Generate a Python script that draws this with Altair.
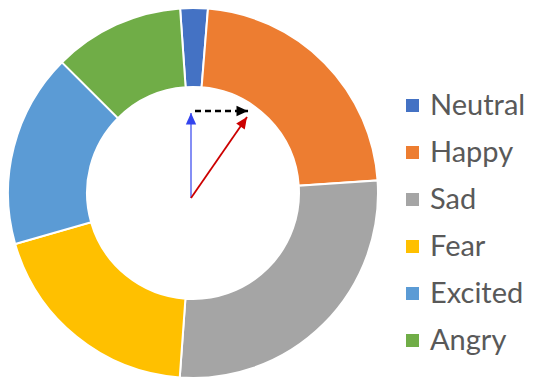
import altair as alt
import pandas as pd
import math

# Donut data
emotions = ["Neutral", "Happy", "Sad", "Fear", "Excited", "Angry"]
shares = [2.4, 22.6, 27.2, 19.4, 16.9, 11.4]
colors = ["#4472C4", "#ED7D31", "#A5A5A5", "#FFC000", "#5B9BD5", "#70AD47"]

# Arrow annotations (vector units)
arrow_names = ["blue", "red", "black"]
arrow_x0 = [0.0, 0.0, 0.047]
arrow_y0 = [0.0, 0.0, 1.024]
arrow_x1 = [0.0, 0.659, 0.671]
arrow_y1 = [1.0, 0.953, 1.024]
arrow_colors = ["#3344EE", "#CC0000", "#000000"]

W, H = 518, 374
CX, CY = 185, 185
UNIT = 85.0
OX, OY = 183, 190

df = pd.DataFrame({"emotion": emotions, "share": shares, "order": list(range(len(emotions)))})

arr = pd.DataFrame({
    "name": arrow_names, "x0": arrow_x0, "y0": arrow_y0,
    "x1": arrow_x1, "y1": arrow_y1,
})
arr["angle"] = [
    (math.degrees(math.atan2(x1 - x0, y1 - y0)) + 360) % 360
    for x0, y0, x1, y1 in zip(arrow_x0, arrow_y0, arrow_x1, arrow_y1)
]

start = -4 * math.pi / 180
donut = alt.Chart(df).mark_arc(
    innerRadius=106, outerRadius=185, stroke="white", strokeWidth=2, x=CX, y=CY
).encode(
    theta=alt.Theta("share:Q", stack=True,
                    scale=alt.Scale(range=[start, start + 2 * math.pi])),
    order=alt.Order("order:Q"),
    color=alt.Color(
        "emotion:N",
        scale=alt.Scale(domain=emotions, range=colors),
        sort=emotions,
        legend=alt.Legend(
            title=None, orient="none", legendX=390, legendY=83,
            symbolType="square", symbolSize=169, symbolStrokeWidth=0,
            labelFont="Lato", labelFontSize=29, labelColor="#595959",
            labelOffset=3, rowPadding=17, padding=0, labelLimit=200,
        ),
    ),
)

xs = alt.Scale(domain=[-OX / UNIT, (W - OX) / UNIT], nice=False, zero=False)
ys = alt.Scale(domain=[-(H - OY) / UNIT, OY / UNIT], nice=False, zero=False)

base = alt.Chart(arr)
cscale = alt.Scale(domain=arrow_names, range=arrow_colors)

def line(name, width, dash=None):
    kw = dict(strokeWidth=width, strokeCap="butt")
    if dash:
        kw["strokeDash"] = dash
    return base.transform_filter(alt.datum.name == name).mark_rule(**kw).encode(
        x=alt.X("x0:Q", scale=xs, axis=None),
        y=alt.Y("y0:Q", scale=ys, axis=None),
        x2="x1:Q", y2="y1:Q",
        color=alt.Color("name:N", scale=cscale, legend=None),
    )

heads = base.mark_point(
    shape="M0,0L-0.45,1L0.45,1Z", filled=True, size=530, opacity=1, strokeWidth=0
).encode(
    x=alt.X("x1:Q", scale=xs, axis=None),
    y=alt.Y("y1:Q", scale=ys, axis=None),
    angle=alt.Angle("angle:Q", scale=None),
    color=alt.Color("name:N", scale=cscale, legend=None),
)

chart = alt.layer(
    donut,
    line("blue", 1.2),
    line("red", 1.8),
    line("black", 2.6, [6, 4]),
    heads,
).resolve_scale(color="independent").properties(
    width=W, height=H,
    autosize=alt.AutoSizeParams(type="none"),
    padding=0,
).configure_view(stroke=None)

chart.save("out.html", embed_options={"renderer": "svg", "actions": False})
